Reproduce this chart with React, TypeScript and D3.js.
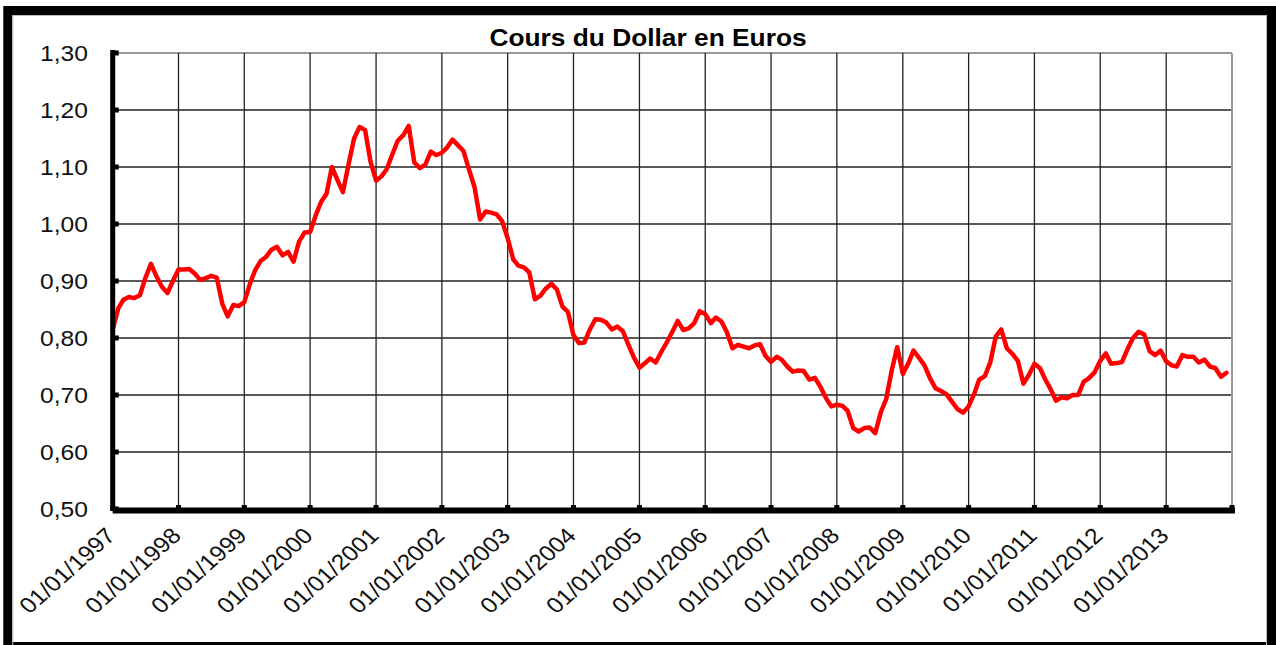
import React from 'react';
import * as d3 from 'd3';

// Cours mensuel du dollar en euros, janvier 1997 -> décembre 2013
const START_MONTH = new Date(1997, 0, 1);
const RATES = [
  0.815, 0.852, 0.867, 0.872, 0.870, 0.875, 0.905, 0.930, 0.908, 0.890, 0.879, 0.900,
  0.920, 0.920, 0.921, 0.913, 0.902, 0.905, 0.909, 0.906, 0.860, 0.838, 0.858, 0.856,
  0.863, 0.895, 0.918, 0.935, 0.942, 0.955, 0.960, 0.945, 0.951, 0.934, 0.969, 0.985,
  0.986, 1.015, 1.038, 1.053, 1.100, 1.077, 1.056, 1.104, 1.150, 1.170, 1.165, 1.110,
  1.076, 1.084, 1.096, 1.122, 1.146, 1.156, 1.172, 1.108, 1.098, 1.104, 1.127, 1.121,
  1.125, 1.135, 1.148, 1.138, 1.128, 1.095, 1.065, 1.008, 1.022, 1.020, 1.017, 1.005,
  0.975, 0.938, 0.927, 0.924, 0.915, 0.868, 0.874, 0.887, 0.895, 0.885, 0.855, 0.846,
  0.805, 0.791, 0.792, 0.815, 0.833, 0.832, 0.827, 0.815, 0.820, 0.812, 0.788, 0.766,
  0.748, 0.756, 0.764, 0.757, 0.775, 0.792, 0.810, 0.830, 0.814, 0.817, 0.826, 0.847,
  0.842, 0.826, 0.836, 0.829, 0.810, 0.782, 0.788, 0.785, 0.782, 0.787, 0.789, 0.769,
  0.758, 0.767, 0.762, 0.750, 0.741, 0.743, 0.742, 0.727, 0.730, 0.715, 0.695, 0.680,
  0.683, 0.681, 0.672, 0.642, 0.636, 0.642, 0.643, 0.633, 0.670, 0.693, 0.744, 0.784,
  0.737, 0.756, 0.778, 0.765, 0.752, 0.729, 0.712, 0.707, 0.701, 0.688, 0.675, 0.669,
  0.680, 0.702, 0.727, 0.733, 0.757, 0.803, 0.815, 0.782, 0.772, 0.760, 0.720, 0.735,
  0.755, 0.747, 0.728, 0.710, 0.690, 0.696, 0.694, 0.700, 0.700, 0.723, 0.730, 0.740,
  0.760, 0.773, 0.755, 0.756, 0.758, 0.781, 0.800, 0.811, 0.806, 0.777, 0.770, 0.778,
  0.759, 0.752, 0.750, 0.770, 0.767, 0.767, 0.757, 0.762, 0.750, 0.747, 0.732, 0.739,
];

const Y_TICKS = [0.5, 0.6, 0.7, 0.8, 0.9, 1.0, 1.1, 1.2, 1.3];
const TICK_YEARS = [
  1997, 1998, 1999, 2000, 2001, 2002, 2003, 2004, 2005,
  2006, 2007, 2008, 2009, 2010, 2011, 2012, 2013,
];

const TITLE = 'Cours du Dollar en Euros';
const FONT = '"Liberation Sans", Arial, sans-serif';
const STRETCH = 1.12; // l'image d'origine est un peu étirée en largeur

const W = 1276;
const H = 645;

export default function App() {
  const x = d3
    .scaleTime()
    .domain([new Date(1997, 0, 1), new Date(2014, 0, 1)])
    .range([112.7, 1232]);
  const y = d3.scaleLinear().domain([0.5, 1.3]).range([509, 53]);

  const points = RATES.map((v, i) => ({
    date: d3.timeMonth.offset(START_MONTH, i),
    value: v,
  }));

  const line = d3
    .line<{ date: Date; value: number }>()
    .x(d => x(d.date))
    .y(d => y(d.value));

  const fmt = (v: number) => d3.format('.2f')(v).replace('.', ',');
  const x0 = x.range()[0];
  const x1 = x.range()[1];
  const yTop = y(1.3);
  const yBot = y(0.5);

  return (
    <svg
      width={W}
      height={H}
      style={{ position: 'absolute', left: 0, top: 0, background: '#fff' }}
      fontFamily={FONT}
    >
      <rect x={0} y={0} width={W} height={H} fill="#fff" />
      {/* cadre */}
      <rect x={7.8} y={10.5} width={1263.7} height={636} fill="none" stroke="#000" strokeWidth={9} />
      <rect x={12.8} y={15.5} width={1253.7} height={630} fill="none" stroke="#bbb" strokeWidth={1} />

      <text
        transform={`translate(648, 45.5) scale(${STRETCH},1)`}
        textAnchor="middle"
        fontSize={23.5}
        fontWeight="bold"
        fill="#000"
      >
        {TITLE}
      </text>

      {/* grille horizontale */}
      {Y_TICKS.map(t => (
        <line
          key={'h' + t}
          x1={x0}
          x2={x1}
          y1={y(t)}
          y2={y(t)}
          stroke={t === 1.3 ? '#999' : '#222'}
          strokeWidth={t === 1.3 ? 2 : 1.3}
        />
      ))}
      {/* grille verticale */}
      {TICK_YEARS.map(yr => (
        <line
          key={'v' + yr}
          x1={x(new Date(yr, 0, 1))}
          x2={x(new Date(yr, 0, 1))}
          y1={yTop}
          y2={yBot}
          stroke="#222"
          strokeWidth={1.3}
        />
      ))}
      <line x1={x1} x2={x1} y1={yTop} y2={yBot} stroke="#999" strokeWidth={2} />

      {/* courbe */}
      <path
        d={line(points) || ''}
        fill="none"
        stroke="#ff0000"
        strokeWidth={4.5}
        strokeLinejoin="round"
        strokeLinecap="round"
      />

      {/* axe Y */}
      <line x1={x0} x2={x0} y1={yTop - 3} y2={yBot + 2} stroke="#000" strokeWidth={5} />
      {Y_TICKS.map(t => (
        <rect key={'yt' + t} x={x0} y={y(t) - 2.5} width={6} height={5} fill="#000" />
      ))}
      {Y_TICKS.map(t => (
        <text
          key={'yl' + t}
          transform={`translate(88, ${y(t) + 7.8}) scale(${STRETCH},1)`}
          textAnchor="end"
          fontSize={22}
          fill="#111"
        >
          {fmt(t)}
        </text>
      ))}

      {/* axe X */}
      <line x1={x0} x2={x1 + 3} y1={yBot + 1.5} y2={yBot + 1.5} stroke="#000" strokeWidth={6} />
      {TICK_YEARS.concat([2014]).map(yr => (
        <rect
          key={'xt' + yr}
          x={x(new Date(yr, 0, 1)) - 2.5}
          y={yBot - 4}
          width={5}
          height={5}
          fill="#000"
        />
      ))}
      {TICK_YEARS.map(yr => (
        <text
          key={'xl' + yr}
          transform={`translate(${x(new Date(yr, 0, 1)) + 4}, 537) scale(${STRETCH},1) rotate(-45)`}
          textAnchor="end"
          fontSize={22}
          fill="#111"
        >
          {`01/01/${yr}`}
        </text>
      ))}
    </svg>
  );
}
